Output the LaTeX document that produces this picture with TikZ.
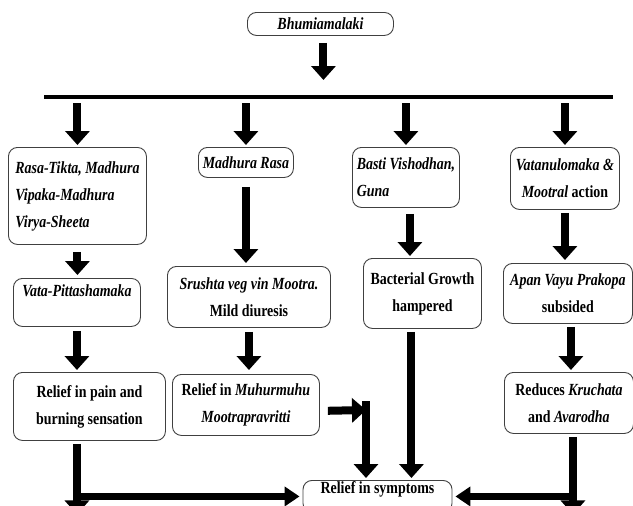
\documentclass[tikz,border=0pt]{standalone}
\usepackage{fontspec}
\setmainfont{Liberation Serif}[FakeStretch=0.82]
\usetikzlibrary{arrows.meta}
\begin{document}
\begin{tikzpicture}[x=1pt,y=-1pt,
  box/.style={draw=black!75,line width=0.9pt,rounded corners=9pt,inner sep=0pt,
    anchor=north west,font=\fontsize{17pt}{27pt}\selectfont\bfseries},
  fat/.style={line width=8pt,-{Triangle[width=24pt,length=14pt]}},
  fatside/.style={line width=7pt,-{Triangle[width=19pt,length=15pt]}}]
\useasboundingbox (0,0) rectangle (633,506);
\clip (0,0) rectangle (633,506);
\node[box,minimum width=146pt,minimum height=23pt] (top) at (247,12){\textit{Bhumiamalaki}};
\coordinate (barL) at (44,97);
\coordinate (barR) at (613,97);
\draw[line width=3.5pt] (barL) -- (barR);
\draw[fat,shorten <=7pt,shorten >=17pt] ([xshift=3pt]top.south) -- ([xshift=3pt]top.south |- barL);
% first row
\node[box,minimum width=138pt,minimum height=97pt,align=left] (a1) at (8,147)
  {\textit{Rasa-Tikta, Madhura}\\ \textit{Vipaka-Madhura}\\ \textit{Virya-Sheeta}};
\node[box,minimum width=95pt,minimum height=30pt] (b1) at (198,147){\textit{Madhura Rasa}};
\node[box,minimum width=107pt,minimum height=60pt,align=left] (c1) at (352,147)
  {\textit{Basti Vishodhan,}\\ \textit{Guna}};
\node[box,minimum width=109pt,minimum height=62pt,align=center] (d1) at (510,147)
  {\textit{Vatanulomaka \&}\\ \textit{Mootral} action};
\foreach \n in {a1,b1,c1,d1}
  \draw[fat,shorten <=6pt,shorten >=2pt] (\n.north |- barL) -- (\n.north);
% second row
\node[box,minimum width=127pt,minimum height=48pt,text height=12pt,text depth=24pt] (a2) at (13,278)
  {\textit{Vata-Pittashamaka}};
\node[box,minimum width=163pt,minimum height=61pt,align=center] (b2) at (167,266)
  {\textit{Srushta veg vin Mootra.}\\ Mild diuresis};
\node[box,minimum width=118pt,minimum height=70pt,align=center] (c2) at (363,258)
  {Bacterial Growth\\ hampered};
\node[box,minimum width=129pt,minimum height=60pt,align=center] (d2) at (503,263)
  {\textit{Apan Vayu Prakopa}\\ subsided};
\draw[fat,shorten <=7pt,shorten >=3pt] (a1.south) -- (a1.south |- a2.north);
\draw[fat,shorten <=9pt,shorten >=3pt] (b1.south) -- (b1.south |- b2.north);
\draw[fat,shorten <=6pt,shorten >=2pt] ([xshift=4pt]c1.south) -- ([xshift=4pt]c1.south |- c2.north);
\draw[fat,shorten <=3pt,shorten >=3pt] (d1.south) -- (d1.south |- d2.north);
% third row
\node[box,minimum width=152pt,minimum height=68pt,align=center] (a3) at (13,372)
  {Relief in pain and\\ burning sensation};
\node[box,minimum width=147pt,minimum height=61pt,align=center] (b3) at (172,374)
  {Relief in \textit{Muhurmuhu}\\ \textit{Mootrapravritti}};
\node[box,minimum width=129pt,minimum height=61pt,align=center] (d3) at (504,372)
  {Reduces \textit{Kruchata}\\ and \textit{Avarodha}};
\draw[fat,shorten <=4pt,shorten >=2pt] (a2.south) -- (a2.south |- a3.north);
\draw[fat,shorten <=4pt,shorten >=4pt] (b2.south) -- (b2.south |- b3.north);
\draw[fat,shorten <=3pt,shorten >=2pt] ([xshift=3pt]d2.south) -- ([xshift=3pt]d2.south |- d3.north);
% result
\node[box,anchor=north,minimum width=149pt,minimum height=32pt,text height=11pt,text depth=17pt] (final) at (377.5,480)
  {Relief in symptoms};
\draw[fat,shorten <=3pt,shorten >=2pt] ([xshift=-11pt]c2.south) -- ([xshift=-11pt]c2.south |- final.north);
\coordinate (bend) at (366,410);
\draw[fat,shorten <=8pt] ([yshift=-6pt]b3.east) -- (bend);
\draw[fat,shorten >=2pt] ([yshift=9pt]bend) -- (bend |- final.north);
\coordinate (ljoin) at (a2.south |- final.west);
\draw[fat,shorten <=3pt] (a3.south -| a2.south) -- ([yshift=-18pt]ljoin);
\draw[fatside,shorten >=3pt] (ljoin) -- (final.west);
\coordinate (dx) at ([xshift=4pt]d3.south);
\coordinate (rjoin) at (dx |- final.west);
\draw[fat,shorten <=3pt] (dx) -- ([yshift=-18pt]rjoin);
\draw[fatside,shorten >=3pt] (rjoin) -- (final.east);
\end{tikzpicture}
\end{document}
